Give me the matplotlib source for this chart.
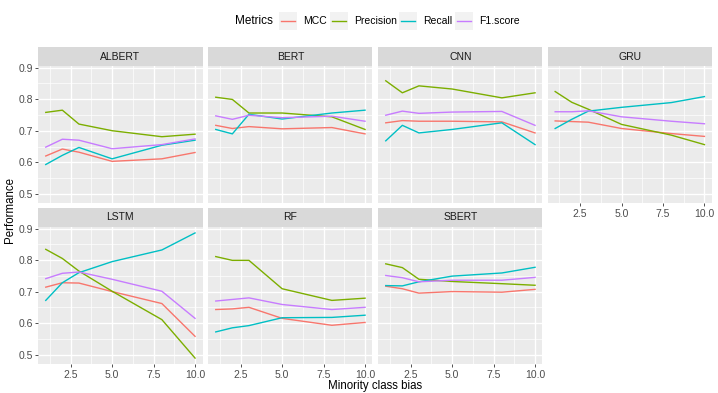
import matplotlib
matplotlib.use('Agg')
import matplotlib.pyplot as plt
from matplotlib.patches import Rectangle
from matplotlib.lines import Line2D

plt.rcParams['font.family'] = ['Liberation Sans', 'DejaVu Sans']

bias = [1, 2, 3, 5, 8, 10]
models = ['ALBERT', 'BERT', 'CNN', 'GRU', 'LSTM', 'RF', 'SBERT']
metrics = ['MCC', 'Precision', 'Recall', 'F1.score']
colors = ['#F8766D', '#7CAE00', '#00BFC4', '#C77CFF']

mcc = {
    'ALBERT': [0.620, 0.642, 0.632, 0.603, 0.611, 0.631],
    'BERT': [0.717, 0.707, 0.713, 0.706, 0.710, 0.690],
    'CNN': [0.725, 0.732, 0.730, 0.730, 0.728, 0.693],
    'GRU': [0.731, 0.729, 0.727, 0.707, 0.691, 0.682],
    'LSTM': [0.714, 0.728, 0.727, 0.700, 0.662, 0.558],
    'RF': [0.643, 0.645, 0.650, 0.615, 0.593, 0.602],
    'SBERT': [0.717, 0.709, 0.695, 0.700, 0.698, 0.707],
}
precision = {
    'ALBERT': [0.758, 0.765, 0.721, 0.700, 0.681, 0.689],
    'BERT': [0.806, 0.799, 0.756, 0.756, 0.744, 0.704],
    'CNN': [0.858, 0.820, 0.842, 0.832, 0.804, 0.820],
    'GRU': [0.824, 0.790, 0.768, 0.720, 0.686, 0.656],
    'LSTM': [0.834, 0.805, 0.765, 0.701, 0.611, 0.489],
    'RF': [0.811, 0.799, 0.799, 0.709, 0.672, 0.679],
    'SBERT': [0.788, 0.776, 0.739, 0.732, 0.725, 0.720],
}
recall = {
    'ALBERT': [0.593, 0.622, 0.647, 0.611, 0.654, 0.670],
    'BERT': [0.704, 0.690, 0.752, 0.737, 0.756, 0.765],
    'CNN': [0.668, 0.717, 0.693, 0.704, 0.725, 0.656],
    'GRU': [0.707, 0.736, 0.762, 0.774, 0.789, 0.808],
    'LSTM': [0.672, 0.728, 0.760, 0.795, 0.832, 0.886],
    'RF': [0.572, 0.585, 0.592, 0.617, 0.618, 0.625],
    'SBERT': [0.719, 0.718, 0.731, 0.749, 0.759, 0.777],
}
f1 = {
    'ALBERT': [0.648, 0.673, 0.670, 0.643, 0.656, 0.674],
    'BERT': [0.747, 0.736, 0.749, 0.741, 0.746, 0.730],
    'CNN': [0.749, 0.762, 0.755, 0.759, 0.761, 0.717],
    'GRU': [0.760, 0.760, 0.763, 0.744, 0.730, 0.722],
    'LSTM': [0.741, 0.758, 0.762, 0.739, 0.701, 0.615],
    'RF': [0.670, 0.675, 0.680, 0.659, 0.643, 0.650],
    'SBERT': [0.751, 0.744, 0.731, 0.736, 0.736, 0.745],
}
series = [mcc, precision, recall, f1]

W, H = 718, 393
fig = plt.figure(figsize=(W / 100, H / 100), dpi=100)


def box(x0, y0, x1, y1):
    # pixel box (top-left origin) -> figure fraction rect
    return [x0 / W, 1 - y1 / H, (x1 - x0) / W, (y1 - y0) / H]


col_left = [38.3, 208.3, 378.3, 547.7]
pw = 164.2
rows = [(65.7, 203.3), (226.7, 364.0)]
strip_h = 18.4

for i, m in enumerate(models):
    r, c = divmod(i, 4)
    x0 = col_left[c]
    top, bot = rows[r]
    ax = fig.add_axes(box(x0, top, x0 + pw, bot))
    ax.set_facecolor('#EBEBEB')
    for s in ax.spines.values():
        s.set_visible(False)
    ax.set_xlim(0.55, 10.45)
    ax.set_ylim(0.4702, 0.9058)
    ax.set_xticks([2.5, 5.0, 7.5, 10.0])
    ax.set_xticks([1.25, 3.75, 6.25, 8.75], minor=True)
    ax.set_yticks([0.5, 0.6, 0.7, 0.8, 0.9])
    ax.set_yticks([0.55, 0.65, 0.75, 0.85], minor=True)
    ax.grid(True, which='major', color='white', lw=1.0)
    ax.grid(True, which='minor', color='white', lw=0.5)
    ax.set_axisbelow(True)
    ax.tick_params(which='minor', length=0)
    ax.tick_params(which='major', length=2.5, width=0.6, color='#333333',
                   labelsize=7.5, labelcolor='#4D4D4D', pad=1.5)
    show_x = (r == 1) or (c == 3)
    if not show_x:
        ax.tick_params(axis='x', which='major', length=0, labelbottom=False)
    else:
        ax.set_xticklabels(['2.5', '5.0', '7.5', '10.0'])
    if c != 0:
        ax.tick_params(axis='y', which='major', length=0, labelleft=False)
    else:
        ax.set_yticklabels(['0.5', '0.6', '0.7', '0.8', '0.9'])
    for vals, col in zip(series, colors):
        ax.plot(bias, vals[m], color=col, lw=1.0)

    sax = fig.add_axes(box(x0, top - strip_h, x0 + pw, top))
    sax.set_facecolor('#D9D9D9')
    sax.set_xticks([])
    sax.set_yticks([])
    for s in sax.spines.values():
        s.set_visible(False)
    sax.text(0.5, 0.5, m, ha='center', va='center', fontsize=7.5,
             color='#1A1A1A', transform=sax.transAxes)

fig.text(375 / W, 1 - 386 / H, 'Minority class bias', ha='center', va='center',
         fontsize=8.3, color='black')
fig.text(10 / W, 1 - 210 / H, 'Performance', ha='center', va='center',
         rotation=90, fontsize=8.3, color='black')

# legend on top
ly = 1 - 21 / H
fig.text(235 / W, ly, 'Metrics', ha='left', va='center', fontsize=8.5)
key_x = [279, 330, 399, 455]
for kx, lab, col in zip(key_x, metrics, colors):
    fig.patches.append(Rectangle((kx / W, 1 - 30 / H), 18 / W, 18 / H,
                                 transform=fig.transFigure, facecolor='#F2F2F2',
                                 edgecolor='none'))
    fig.lines.append(Line2D([(kx + 2) / W, (kx + 16) / W], [ly, ly],
                            transform=fig.transFigure, color=col, lw=1.0))
    fig.text((kx + 24) / W, ly, lab, ha='left', va='center', fontsize=7.5,
             color='black')

fig.savefig('out.png', dpi=100)
